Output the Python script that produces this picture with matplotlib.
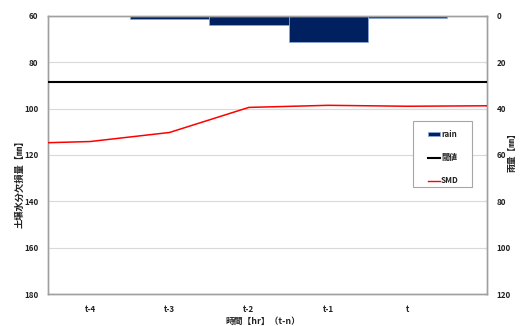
import matplotlib
matplotlib.use("Agg")
import matplotlib.pyplot as plt
from matplotlib.patches import Patch, Rectangle
from matplotlib.lines import Line2D

plt.rcParams['font.family'] = ['Noto Sans CJK JP', 'DejaVu Sans']

# ---- data ----
categories = ["t-4", "t-3", "t-2", "t-1", "t"]
rain = [0.0, 1.4, 4.0, 11.2, 0.9]          # mm (right axis)
threshold = 88.7                           # mm (left axis)
smd_x = [-0.53, 0, 1, 2, 3, 4, 5.0]        # category positions of SMD line points
smd = [114.7, 114.2, 110.3, 99.5, 98.6, 99.0, 98.8]
left_ticks = [60, 80, 100, 120, 140, 160, 180]
right_ticks = [0, 20, 40, 60, 80, 100, 120]

W, H = 522, 326
fig = plt.figure(figsize=(W / 100, H / 100), dpi=100)
ax = fig.add_axes([48 / W, 1 - 294.3 / H, (487 - 48) / W, (294.3 - 15.7) / H])
ax2 = ax.twinx()

tc = '#222222'
fs = 5.8
lfs = 6.3
spine_c = '#A0A0A0'

x = list(range(len(categories)))

# rain bars on right axis
ax2.bar(x, rain, width=1.0, color='#002060', edgecolor='#8EA9DB', linewidth=0.5, zorder=2)
ax2.set_ylim(right_ticks[-1], right_ticks[0])
ax2.set_yticks(right_ticks)

# left axis: SMD + threshold
ax.axhline(threshold, color='black', linewidth=1.5, zorder=3)
ax.plot(smd_x, smd, color='#FF0000', linewidth=1.1, zorder=4)
ax.set_ylim(left_ticks[-1], left_ticks[0])
ax.set_yticks(left_ticks)
ax.set_xlim(-0.53, 5.0)
ax.set_xticks(x)
ax.set_xticklabels(categories)
ax.grid(axis='y', color='#D9D9D9', linewidth=0.8)
ax.set_axisbelow(True)

ax.set_zorder(ax2.get_zorder() + 1)
ax.patch.set_visible(False)

for a in (ax, ax2):
    for s in a.spines.values():
        s.set_color(spine_c)
        s.set_linewidth(1.0)

ax.tick_params(axis='y', length=0, pad=7, labelsize=fs, labelcolor=tc)
ax.tick_params(axis='x', length=0, pad=8, labelsize=fs, labelcolor=tc)
ax2.tick_params(axis='y', direction='in', length=2, color='#808080', pad=7,
                labelsize=fs, labelcolor=tc)
for lab in ax.get_xticklabels() + ax.get_yticklabels() + ax2.get_yticklabels():
    lab.set_fontweight('bold')

# axis labels
fig.text(20 / W, 1 - 182 / H, "土壌水分欠損量【㎜】", rotation=90, ha='center', va='center',
         fontsize=lfs + 0.4, fontweight='bold', color=tc)
fig.text(512 / W, 1 - 150 / H, "雨量【㎜】", rotation=90, ha='center', va='center',
         fontsize=lfs, fontweight='bold', color=tc)
fig.text(263 / W, 1 - 321 / H, "時間【hr】（t-n）", ha='center', va='center',
         fontsize=lfs, fontweight='bold', color=tc)

# legend frame
fig.patches.append(Rectangle((413 / W, 1 - 187 / H), (472 - 413) / W, (187 - 121) / H,
                             transform=fig.transFigure, facecolor='white',
                             edgecolor='#A6A6A6', linewidth=0.8, zorder=5))

handles = [Patch(facecolor='#002060', edgecolor='#8EA9DB', linewidth=0.5),
           Line2D([], [], color='black', linewidth=1.5),
           Line2D([], [], color='#FF0000', linewidth=1.0)]
leg = fig.legend(handles, ["rain", "閾値", "SMD"], loc='upper left',
                 bbox_to_anchor=(428 / W, 1 - 130 / H), frameon=False,
                 fontsize=fs, labelspacing=1.75,
                 handlelength=1.5, handleheight=0.45, handletextpad=0.1,
                 borderpad=0, borderaxespad=0)
leg.set_zorder(6)
for t in leg.get_texts():
    t.set_fontweight('bold')
    t.set_color(tc)

fig.savefig("out.png", dpi=100)
